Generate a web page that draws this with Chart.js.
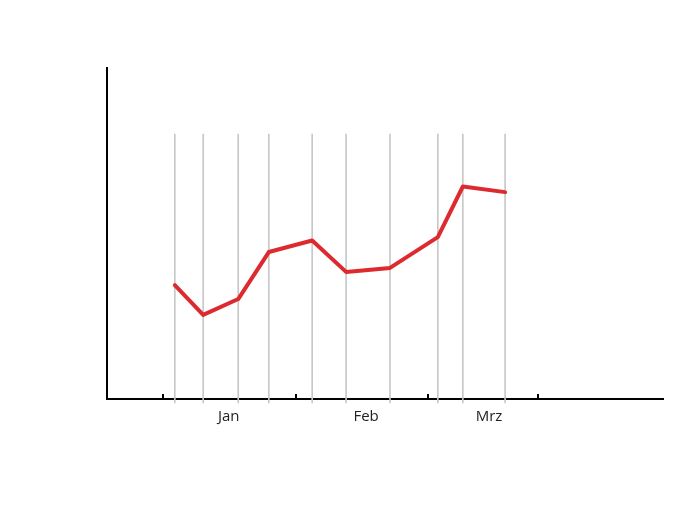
<!DOCTYPE html>
<html>
<head>
<meta charset="utf-8">
<script src="https://cdn.jsdelivr.net/npm/chart.js@4"></script>
<style>
  html, body { margin: 0; padding: 0; background: #fff; }
  #wrap { width: 684px; height: 508px; }
</style>
</head>
<body>
<div id="wrap"><canvas id="grafica" width="684" height="508"></canvas></div>
<script>
// positions on the x axis (arbitrary units 0..100)
const pointX = [12.2, 17.3, 23.6, 29.1, 36.9, 43.0, 50.9, 59.5, 64.0, 71.6];
const values = [34.4, 25.4, 30.2, 44.4, 47.9, 38.4, 39.6, 48.9, 64.2, 62.5];
const monthStarts = [10.1, 34.0, 57.7, 77.5];
const monthMids = [21.9, 46.6, 68.7];
const monthLabels = ["Jan", "Feb", "Mrz"];
const dropTop = 80;
const dropBottom = -1.2;

const lineData = pointX.map((x, i) => ({ x: x, y: values[i] }));
const dropData = pointX.map(x => ({ x: x, y: [dropBottom, dropTop] }));

const ctx = document.getElementById("grafica").getContext("2d");

new Chart(ctx, {
  type: "line",
  data: {
    datasets: [
      {
        type: "line",
        data: lineData,
        borderColor: "#dc2a2e",
        borderWidth: 4,
        tension: 0,
        pointRadius: 0,
        borderJoinStyle: "round",
        borderCapStyle: "round",
        order: 0
      },
      {
        type: "bar",
        data: dropData,
        backgroundColor: "#c8c8c8",
        borderWidth: 0,
        barThickness: 1,
        grouped: false,
        clip: false,
        order: 1
      }
    ]
  },
  options: {
    responsive: false,
    animation: false,
    layout: { padding: { left: 0, right: 21, top: 68, bottom: 0 } },
    plugins: { legend: { display: false }, tooltip: { enabled: false } },
    scales: {
      x: {
        type: "linear",
        position: "bottom",
        min: 0,
        max: 100,
        offset: false,
        afterBuildTicks: s => { s.ticks = monthStarts.map(v => ({ value: v })); },
        ticks: { display: false },
        grid: { offset: false, drawOnChartArea: false, drawTicks: true, tickLength: -5, color: "#000", lineWidth: 2 },
        border: { color: "#000", width: 2 },
        afterFit: s => { s.height = 4; }
      },
      x2: {
        type: "linear",
        position: "bottom",
        min: 0,
        max: 100,
        offset: false,
        afterBuildTicks: s => { s.ticks = monthMids.map(v => ({ value: v })); },
        ticks: {
          autoSkip: false,
          maxRotation: 0,
          padding: 5,
          color: "#222",
          font: { family: "Open Sans", size: 15 },
          callback: (v, i) => monthLabels[i]
        },
        grid: { display: false, drawTicks: false, offset: false },
        border: { display: false },
        afterFit: s => { s.height = 105; }
      },
      y: {
        min: 0,
        max: 100,
        ticks: { display: false },
        grid: { display: false, drawTicks: false },
        border: { color: "#000", width: 2 },
        afterFit: s => { s.width = 107; }
      }
    }
  }
});
</script>
</body>
</html>
